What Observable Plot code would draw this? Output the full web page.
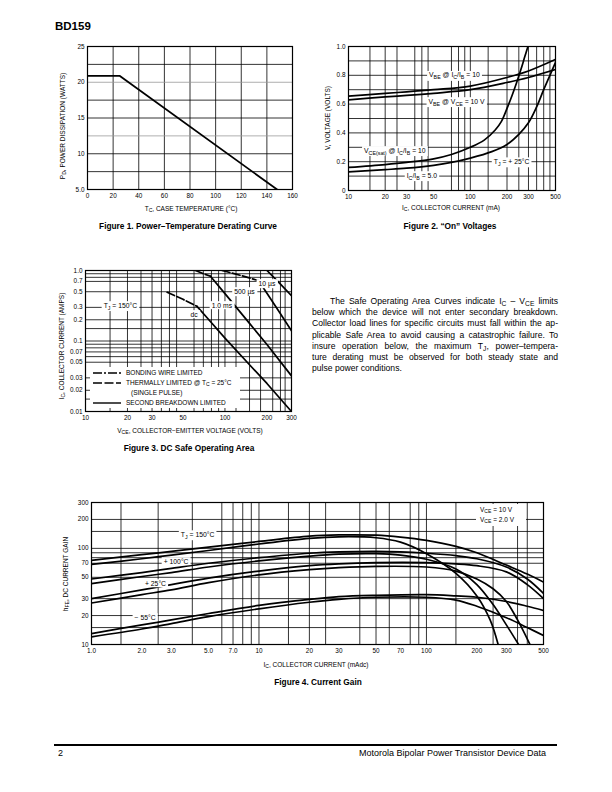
<!DOCTYPE html>
<html><head><meta charset="utf-8">
<script src="https://cdn.jsdelivr.net/npm/d3@7"></script>
<script src="https://cdn.jsdelivr.net/npm/@observablehq/plot@0.6"></script>
<style>
body{margin:0;background:#fff;}
#page{position:relative;width:612px;height:792px;overflow:hidden;font-family:"Liberation Sans",Arial,Helvetica,sans-serif;color:#000;background:#fff;}
.t{position:absolute;white-space:nowrap;line-height:1;}
sub{font-size:0.78em;vertical-align:-0.28em;line-height:0;}
.para{position:absolute;left:312px;top:296px;width:246px;font-size:8.6px;line-height:11.2px;}
.para div{text-align:justify;text-align-last:justify;white-space:nowrap;}
.para div.last{text-align-last:left;}
.box{position:absolute;background:#fff;}
</style></head><body><div id="page"></div>
<script>
// ---------------- DATA ----------------
// Figure 1: power derating
const fig1Temp = [0, 25, 148];
const fig1Power = [20.9, 20.9, 5.0];
const fig1XTicks = [0, 20, 40, 60, 80, 100, 120, 140, 160];
const fig1YTicks = [5, 10, 15, 20, 25];
const fig1YGrid = [7.5, 10, 12.5, 15, 17.5, 20, 22.5];
const fig1GreyGrid = [12.5, 20];

// Figure 2: "On" voltages  [IC mA, volts]
const fig2VbeSat = [[10,0.655],[20,0.675],[30,0.685],[50,0.70],[100,0.725],[200,0.785],[300,0.83],[500,0.91]];
const fig2VbeOn = [[10,0.63],[20,0.65],[30,0.66],[50,0.675],[100,0.70],[200,0.75],[300,0.785],[500,0.84]];
const fig2VceSat10 = [[10,0.16],[20,0.18],[30,0.195],[50,0.22],[70,0.25],[100,0.30],[130,0.35],[160,0.42],[180,0.48],[200,0.57],[220,0.66],[240,0.75],[260,0.84],[280,0.93],[297,1.0]];
const fig2VceSat5 = [[10,0.13],[20,0.145],[30,0.155],[50,0.175],[70,0.195],[100,0.225],[150,0.27],[200,0.32],[250,0.39],[300,0.47],[350,0.58],[400,0.70],[450,0.80],[500,0.89]];
const fig2XTicks = [10, 20, 30, 50, 100, 200, 300, 500];
const fig2YTicks = [0, 0.2, 0.4, 0.6, 0.8, 1.0];
const fig2XGrid = [15, 20, 25, 35, 40, 45, 70, 80, 90, 100, 140, 200, 250, 300, 350, 400, 450];
const fig2YGrid = [0.1, 0.2, 0.3, 0.4, 0.5, 0.6, 0.7, 0.8, 0.9];
const fig2LabelText = ["V_{BE} @ I_{C}/I_{B} = 10", "V_{BE} @ V_{CE} = 10 V", "V_{CE(sat)} @ I_{C}/I_{B} = 10", "I_{C}/I_{B} = 5.0", "T_{J} = + 25°C"];
const fig2LabelX = [74, 77, 24, 40, 218];
const fig2LabelY = [0.80, 0.618, 0.278, 0.104, 0.20];

// Figure 3: safe operating area [VCE volts, IC amps]
const fig3DcThermal = [[38.5,0.49],[50,0.39],[63,0.31]];
const fig3DcSecond = [[63,0.31],[75,0.21],[100,0.11],[150,0.046],[200,0.025],[300,0.01]];
const fig3Ms1Thermal = [[61.5,1.0],[70,0.9],[78.7,0.83]];
const fig3Ms1Second = [[78.7,0.83],[100,0.47],[150,0.178],[200,0.089],[300,0.032]];
const fig3Us500Thermal = [[95.4,1.0],[130,0.85],[174,0.72]];
const fig3Us500Second = [[174,0.72],[200,0.475],[250,0.243],[300,0.14]];
const fig3Us10Second = [[200,1.0],[250,0.64],[300,0.44]];
const fig3XTicks = [10, 20, 30, 50, 100, 200, 300];
const fig3YTicks = [0.01, 0.02, 0.03, 0.05, 0.07, 0.1, 0.2, 0.3, 0.5, 0.7, 1.0];
const fig3XGrid = [15, 20, 25, 30, 35, 40, 45, 60, 70, 80, 90, 100, 120, 150, 180, 220, 250, 270];
const fig3YGrid = [0.015, 0.02, 0.03, 0.05, 0.06, 0.07, 0.08, 0.09, 0.1, 0.15, 0.2, 0.3, 0.5, 0.7, 0.8, 0.9];
const fig3LabelText = ["T_{J} = 150°C", "dc", "1.0 ms", "500 µs", "10 µs"];
const fig3LabelX = [17.8, 60, 95, 138, 200];
const fig3LabelY = [0.319, 0.238, 0.319, 0.504, 0.654];

// Figure 4: current gain [IC mA, hFE]
const fig4T150V10 = [[1,75],[2,86],[3,93],[5,103],[10,118],[20,134],[30,138],[50,137],[70,131],[100,121],[150,105],[200,90],[300,67],[400,54],[500,44.5]];
const fig4T150V2 = [[1,68],[2,78],[3,85],[5,95],[10,111],[20,127],[30,132],[50,129],[70,116],[100,88],[150,55],[200,32],[240,18],[268,10]];
const fig4T100V10 = [[1,48],[2,56],[3,62],[5,70],[10,80],[20,89],[30,92],[50,93],[70,92],[100,89],[150,84],[200,78],[300,64],[400,48],[500,34]];
const fig4T100V2 = [[1,43],[2,51],[3,56],[5,64],[10,74],[20,83],[30,87],[50,88],[70,85],[100,77],[150,61],[200,42],[250,26],[300,16],[355,10]];
const fig4T25V10 = [[1,30],[2,37],[3,42],[5,49],[10,58],[20,66],[30,69],[50,71],[100,71],[150,69],[200,66],[300,57],[400,42],[500,30]];
const fig4T25V2 = [[1,27],[2,33],[3,37],[5,44],[10,53],[20,60],[30,63],[50,65],[100,64],[150,58],[200,48],[250,38],[300,28],[350,18],[415,10]];
const fig4Tm55V10 = [[1,13],[2,16],[3,18],[5,21],[10,25.5],[20,29.5],[30,31.5],[50,32.5],[100,33],[150,32],[200,31],[300,28],[400,25],[500,22.6]];
const fig4Tm55V2 = [[1,12],[2,14.5],[3,16.5],[5,19.5],[10,23.5],[20,27.5],[30,29.5],[50,31],[100,31],[150,29],[200,25],[300,19],[400,15],[500,12.4]];
const fig4XTicks = [1, 2, 3, 5, 7, 10, 20, 30, 50, 70, 100, 200, 300, 500];
const fig4YTicks = [10, 20, 30, 50, 70, 100, 200, 300];
const fig4XGrid = [1.5, 2.5, 4, 6, 7, 8, 9, 10, 15, 20, 25, 40, 50, 60, 80, 90, 100, 150, 250, 350, 400];
const fig4YGrid = [15, 20, 30, 50, 70, 80, 90, 100, 150, 200];
const fig4LabelText = ["T_{J} = 150°C", "+ 100°C", "+ 25°C", "− 55°C"];
const fig4LabelX = [4.3, 3.2, 2.41, 2.09];
const fig4LabelY = [139, 73, 43, 19.1];

// ---------------- HELPERS ----------------
const page = document.getElementById("page");
const ns = "http://www.w3.org/2000/svg";
const FONT = '"Liberation Sans", Arial, Helvetica, sans-serif';
const baseStyle = {fontFamily: FONT, fontSize: "6.4px", background: "none", overflow: "visible", color: "#000"};
const TICK = 6.4;

function addText(html, x, y, {size = 6.5, weight = "normal", anchor = "middle", rotate = 0} = {}) {
  const d = document.createElement("div");
  d.className = "t";
  d.innerHTML = html;
  d.style.left = x + "px";
  d.style.top = y + "px";
  d.style.fontSize = size + "px";
  d.style.fontWeight = weight;
  const tx = anchor === "middle" ? "-50%" : anchor === "end" ? "-100%" : "0";
  d.style.transform = `translate(${tx},-50%)` + (rotate ? ` rotate(${rotate}deg)` : "");
  page.appendChild(d);
  return d;
}
function place(svg, left, top) {
  svg.style.position = "absolute";
  svg.style.left = left + "px";
  svg.style.top = top + "px";
  page.appendChild(svg);
}
// subscripts + white label boxes for in-plot annotations
function decorate(svg, labels, size) {
  const shift = (size * 0.28).toFixed(2);
  const targets = [...svg.querySelectorAll("text")].filter(t => labels.includes(t.textContent));
  for (const t of targets) {
    const s = t.textContent;
    if (s.includes("_{")) {
      const parts = s.split(/(_\{[^}]*\})/).filter(p => p);
      t.textContent = "";
      let inSub = false;
      for (const p of parts) {
        const ts = document.createElementNS(ns, "tspan");
        if (p.startsWith("_{")) {
          ts.textContent = p.slice(2, -1);
          ts.setAttribute("font-size", (size * 0.78).toFixed(2));
          if (!inSub) ts.setAttribute("dy", shift);
          inSub = true;
        } else {
          ts.textContent = p;
          if (inSub) ts.setAttribute("dy", "-" + shift);
          inSub = false;
        }
        t.appendChild(ts);
      }
    }
    const b = t.getBBox();
    const r = document.createElementNS(ns, "rect");
    r.setAttribute("x", b.x - 2);
    r.setAttribute("y", b.y - 0.5);
    r.setAttribute("width", b.width + 4);
    r.setAttribute("height", b.height + 1);
    r.setAttribute("fill", "#fff");
    r.setAttribute("stroke", "none");
    const tr = t.getAttribute("transform");
    if (tr) r.setAttribute("transform", tr);
    t.parentNode.insertBefore(r, t);
  }
}
function toRows(list) {
  return list.flatMap(([name, pts]) => pts.map(([x, y]) => ({name, x, y})));
}
function labelRows(texts, xs, ys) {
  return texts.map((text, i) => ({text, x: xs[i], y: ys[i]}));
}
function xTickLabels(ticks, fmt) {
  return Plot.text(ticks, {x: d => d, text: fmt, frameAnchor: "bottom", dy: 8, fontSize: TICK, fill: "#000"});
}
function yTickLabels(ticks, fmt) {
  return Plot.text(ticks, {y: d => d, text: fmt, frameAnchor: "left", dx: -3, textAnchor: "end", fontSize: TICK, fill: "#000"});
}
const gridStroke = {stroke: "#000", strokeWidth: 0.8};
const curveStyle = {x: "x", y: "y", z: "name", stroke: "#000", strokeWidth: 1.7, curve: "catmull-rom", clip: true};
const annot = {x: "x", y: "y", text: "text", fill: "#000", fontSize: 6.8};

// ---------------- FIGURE 1 ----------------
const fig1 = Plot.plot({
  width: 260, height: 184, marginLeft: 47, marginRight: 8, marginTop: 16, marginBottom: 25,
  style: baseStyle,
  x: {domain: [0, 160], axis: null},
  y: {domain: [5, 25], axis: null},
  marks: [
    Plot.ruleX(fig1XTicks, gridStroke),
    Plot.ruleY(fig1YGrid, {stroke: d => fig1GreyGrid.includes(d) ? "#999" : "#000", strokeWidth: 0.8}),
    Plot.line(fig1Temp.map((t, i) => ({x: t, y: fig1Power[i]})), {x: "x", y: "y", stroke: "#000", strokeWidth: 1.8, clip: true}),
    Plot.frame({stroke: "#000", strokeWidth: 1.2}),
    xTickLabels(fig1XTicks, d => String(d)),
    yTickLabels(fig1YTicks, d => d === 5 ? "5.0" : String(d))
  ]
});
place(fig1, 40, 30);

// ---------------- FIGURE 2 ----------------
const fig2 = Plot.plot({
  width: 245, height: 184, marginLeft: 30, marginRight: 8, marginTop: 16, marginBottom: 24,
  style: baseStyle,
  x: {type: "log", domain: [10, 500], axis: null},
  y: {domain: [0, 1], axis: null},
  marks: [
    Plot.ruleX(fig2XGrid, gridStroke),
    Plot.ruleY(fig2YGrid, gridStroke),
    Plot.line(toRows([["vbeSat", fig2VbeSat], ["vbeOn", fig2VbeOn], ["sat10", fig2VceSat10], ["sat5", fig2VceSat5]]), curveStyle),
    Plot.frame({stroke: "#000", strokeWidth: 1.2}),
    xTickLabels(fig2XTicks, d => String(d)),
    yTickLabels(fig2YTicks, d => d === 0 ? "0" : d.toFixed(1)),
    Plot.text(labelRows(fig2LabelText, fig2LabelX, fig2LabelY), annot)
  ]
});
place(fig2, 318, 30);
decorate(fig2, fig2LabelText, 6.8);

// ---------------- FIGURE 3 ----------------
const fig3 = Plot.plot({
  width: 259, height: 180, marginLeft: 45, marginRight: 8, marginTop: 15, marginBottom: 24,
  style: baseStyle,
  x: {type: "log", domain: [10, 300], axis: null},
  y: {type: "log", domain: [0.01, 1], axis: null},
  marks: [
    Plot.ruleX(fig3XGrid, gridStroke),
    Plot.ruleY(fig3YGrid, gridStroke),
    Plot.line(toRows([["dcT", fig3DcThermal], ["ms1T", fig3Ms1Thermal], ["us500T", fig3Us500Thermal]]),
      {...curveStyle, curve: "linear", strokeDasharray: "8,2.5"}),
    Plot.line(toRows([["dc", fig3DcSecond], ["ms1", fig3Ms1Second], ["us500", fig3Us500Second], ["us10", fig3Us10Second]]),
      {...curveStyle, curve: "linear"}),
    Plot.frame({stroke: "#000", strokeWidth: 1.2}),
    xTickLabels(fig3XTicks, d => String(d)),
    yTickLabels(fig3YTicks, d => d === 1 ? "1.0" : String(d)),
    Plot.text(labelRows(fig3LabelText, fig3LabelX, fig3LabelY), annot)
  ]
});
place(fig3, 40, 255);
decorate(fig3, fig3LabelText, 6.8);

// ---------------- FIGURE 4 ----------------
const fig4 = Plot.plot({
  width: 503, height: 176, marginLeft: 41, marginRight: 10, marginTop: 12, marginBottom: 22,
  style: baseStyle,
  x: {type: "log", domain: [1, 500], axis: null},
  y: {type: "log", domain: [10, 300], axis: null},
  marks: [
    Plot.ruleX(fig4XGrid, gridStroke),
    Plot.ruleY(fig4YGrid, gridStroke),
    Plot.line(toRows([
      ["150a", fig4T150V10], ["150b", fig4T150V2], ["100a", fig4T100V10], ["100b", fig4T100V2],
      ["25a", fig4T25V10], ["25b", fig4T25V2], ["m55a", fig4Tm55V10], ["m55b", fig4Tm55V2]
    ]), curveStyle),
    Plot.frame({stroke: "#000", strokeWidth: 1.2}),
    xTickLabels(fig4XTicks, d => d < 10 ? d.toFixed(1) : String(d)),
    yTickLabels(fig4YTicks, d => String(d)),
    Plot.text(labelRows(fig4LabelText, fig4LabelX, fig4LabelY), annot)
  ]
});
place(fig4, 50, 490);
decorate(fig4, fig4LabelText, 6.8);

// ---------------- TEXT ----------------
addText("BD159", 55, 27, {size: 11.5, weight: "bold", anchor: "start"});

// Figure 1 titles
addText("P<sub>D</sub>, POWER DISSIPATION (WATTS)", 63, 126, {rotate: -90});
addText("T<sub>C</sub>, CASE TEMPERATURE (°C)", 191, 209);
addText("Figure 1. Power–Temperature Derating Curve", 188, 226, {size: 8.3, weight: "bold"});

// Figure 2 titles
addText("V, VOLTAGE (VOLTS)", 328, 118, {rotate: -90});
addText("I<sub>C</sub>, COLLECTOR CURRENT (mA)", 451, 208);
addText("Figure 2. “On” Voltages", 450, 226, {size: 8.3, weight: "bold"});

// Figure 3 titles
addText("I<sub>C</sub>, COLLECTOR CURRENT (AMPS)", 62, 346, {rotate: -90});
addText("V<sub>CE</sub>, COLLECTOR−EMITTER VOLTAGE (VOLTS)", 190, 431);
addText("Figure 3. DC Safe Operating Area", 189, 448, {size: 8.3, weight: "bold"});

// Figure 3 legend
(function () {
  const box = document.createElement("div");
  box.className = "box";
  Object.assign(box.style, {left: "90px", top: "367px", width: "150px", height: "41px"});
  page.appendChild(box);
  const rows = [
    {y: 373, dash: "9,2,2,2", text: "BONDING WIRE LIMITED", x: 126},
    {y: 383, dash: "9,2.5", text: "THERMALLY LIMITED @ T<sub>C</sub> = 25°C", x: 126},
    {y: 392.5, dash: null, text: "(SINGLE PULSE)", x: 131},
    {y: 402.5, dash: "none", text: "SECOND BREAKDOWN LIMITED", x: 126}
  ];
  for (const r of rows) {
    if (r.dash) {
      const s = document.createElementNS(ns, "svg");
      s.setAttribute("width", 28); s.setAttribute("height", 4);
      Object.assign(s.style, {position: "absolute", left: "93px", top: (r.y - 2) + "px"});
      const l = document.createElementNS(ns, "line");
      l.setAttribute("x1", 0); l.setAttribute("x2", 28); l.setAttribute("y1", 2); l.setAttribute("y2", 2);
      l.setAttribute("stroke", "#000"); l.setAttribute("stroke-width", 1.4);
      if (r.dash !== "none") l.setAttribute("stroke-dasharray", r.dash);
      s.appendChild(l);
      page.appendChild(s);
    }
    addText(r.text, r.x, r.y, {size: 6.5, anchor: "start"});
  }
})();

// Figure 4 titles
addText("h<sub>FE</sub>, DC CURRENT GAIN", 66, 574, {rotate: -90});
addText("I<sub>C</sub>, COLLECTOR CURRENT (mAdc)", 316, 665);
addText("Figure 4. Current Gain", 318, 682, {size: 8.3, weight: "bold"});
(function () {
  const box = document.createElement("div");
  box.className = "box";
  Object.assign(box.style, {left: "476px", top: "504px", width: "50px", height: "22px"});
  page.appendChild(box);
  addText("V<sub>CE</sub> = 10 V", 480, 510, {size: 6.5, anchor: "start"});
  addText("V<sub>CE</sub> = 2.0 V", 480, 520, {size: 6.5, anchor: "start"});
})();

// Paragraph
(function () {
  const p = document.createElement("div");
  p.className = "para";
  p.innerHTML = [
    '<div style="padding-left:18px">The Safe Operating Area Curves indicate I<sub>C</sub> – V<sub>CE</sub> limits</div>',
    '<div>below which the device will not enter secondary breakdown.</div>',
    '<div>Collector load lines for specific circuits must fall within the ap-</div>',
    '<div>plicable Safe Area to avoid causing a catastrophic failure. To</div>',
    '<div>insure operation below, the maximum T<sub>J</sub>, power–tempera-</div>',
    '<div>ture derating must be observed for both steady state and</div>',
    '<div class="last">pulse power conditions.</div>'
  ].join("");
  page.appendChild(p);
})();

// Footer
(function () {
  const rule = document.createElement("div");
  Object.assign(rule.style, {position: "absolute", left: "54px", top: "744px", width: "503px", height: "2px", background: "#000"});
  page.appendChild(rule);
  addText("2", 58, 753, {size: 9, anchor: "start"});
  addText("Motorola Bipolar Power Transistor Device Data", 546, 753, {size: 9, anchor: "end"});
})();
</script></body></html>
